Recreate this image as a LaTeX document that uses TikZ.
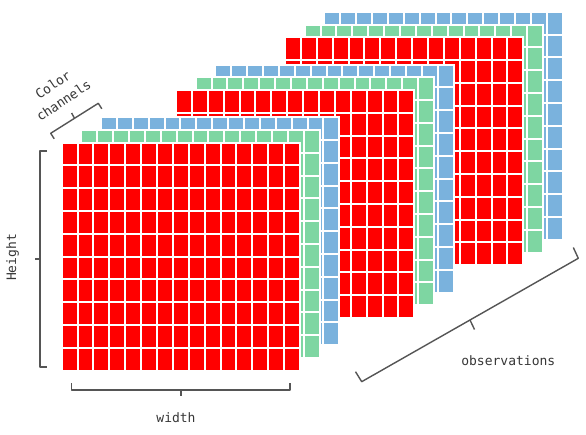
\documentclass[tikz,border=0pt]{standalone}
\usepackage{fontspec}
\setmonofont{DejaVu Sans Mono}
\definecolor{cred}{RGB}{255,0,0}
\definecolor{cgreen}{RGB}{126,214,162}
\definecolor{cblue}{RGB}{122,178,221}
\definecolor{brk}{RGB}{85,85,85}
\definecolor{txt}{RGB}{55,55,55}
\newcommand\gridlayer[3]{%
  \begin{scope}[shift={(#1,#2)}]
    \fill[#3] (0,0) rectangle (238.3,228);
    \foreach \i in {1,...,14} \draw[cellline] (\i*15.887,0) -- (\i*15.887,228);
    \foreach \j in {1,...,9} \draw[cellline] (0,\j*22.8) -- (238.3,\j*22.8);
    \draw[cellline] (0,0) rectangle (238.3,228);
  \end{scope}}
\newcommand\stackat[2]{%
  \gridlayer{#1+39.3}{#2-25.4}{cblue}
  \gridlayer{#1+19.7}{#2-12.7}{cgreen}
  \gridlayer{#1}{#2}{cred}}
\begin{document}
\begin{tikzpicture}[x=1pt,y=-1pt,
  cellline/.style={white,line width=2pt},
  bracket/.style={brk,line width=1.4pt,line join=round},
  lbl/.style={text=txt,font=\ttfamily\fontsize{13}{19}\selectfont,inner sep=0pt}]
\fill[white] (0,0) rectangle (586,435);
\useasboundingbox (0,0) rectangle (586,435);
% stacks, back to front
\stackat{285}{37.3}
\stackat{176}{90}
\stackat{61.7}{142.7}
% Height bracket
\coordinate (hT1) at (47,151);
\coordinate (hT) at (40,151);
\coordinate (hB) at (40,367);
\coordinate (hB1) at (47,367);
\coordinate (hM) at (40,259);
\coordinate (hMt) at (35,259);
\draw[bracket] (hT1) -- (hT) -- (hB) -- (hB1);
\draw[bracket] (hM) -- (hMt);
\node[lbl,rotate=90] (height) at (12.5,257.5) {Height};
% width bracket
\coordinate (wL1) at (71.7,383.3);
\coordinate (wL) at (71.7,390);
\coordinate (wR) at (290,390);
\coordinate (wR1) at (290,383.3);
\coordinate (wM) at (180.9,390);
\coordinate (wMt) at (180.9,396);
\draw[bracket] (wL1) -- (wL) -- (wR) -- (wR1);
\draw[bracket] (wM) -- (wMt);
\node[lbl] (width) at (176,418) {width};
% color channels bracket
\coordinate (cA1) at (54.2,138.8);
\coordinate (cA) at (50.7,133.3);
\coordinate (cB) at (98.3,103.3);
\coordinate (cB1) at (101.8,108.8);
\coordinate (cM) at (74.5,118.3);
\coordinate (cMt) at (71.6,113.0);
\draw[bracket] (cA1) -- (cA) -- (cB) -- (cB1);
\draw[bracket] (cM) -- (cMt);
\node[lbl,rotate=34,align=center] (color) at (58.2,92.5) {Color\\channels};
% observations bracket
\coordinate (oA1) at (355.5,371.7);
\coordinate (oA) at (361.7,381.7);
\coordinate (oB) at (578.3,258.3);
\coordinate (oB1) at (573.3,247.5);
\coordinate (oM) at (470,320);
\coordinate (oMt) at (474.5,329.5);
\draw[bracket] (oA1) -- (oA) -- (oB) -- (oB1);
\draw[bracket] (oM) -- (oMt);
\node[lbl] (obs) at (508.3,361) {observations};
\end{tikzpicture}
\end{document}
